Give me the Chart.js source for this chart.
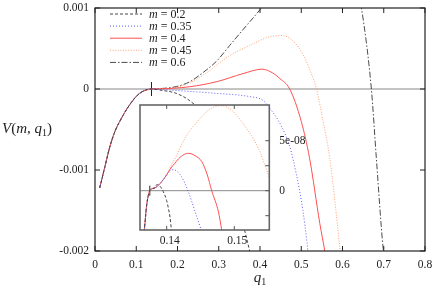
<!DOCTYPE html>
<html><head><meta charset="utf-8">
<script src="https://cdn.jsdelivr.net/npm/chart.js@4/dist/chart.umd.min.js"></script>
<style>
html,body{margin:0;padding:0;background:#fff;}
#wrap{position:relative;width:436px;height:289px;overflow:hidden;}
#main{position:absolute;left:0;top:0;}
#inset{position:absolute;left:120px;top:95px;}
</style></head><body>
<div id="wrap"><canvas id="main" width="436" height="289"></canvas><canvas id="inset" width="200" height="155"></canvas></div>
<script>
// ---------- data ----------
const seriesNames = ['0.2', '0.35', '0.4', '0.45', '0.6'];

// main panel: common rising part shared by all curves
const qRise = [0.0114, 0.0235, 0.0356, 0.0478, 0.060, 0.084, 0.108, 0.137];
const vRise = [-0.00122, -0.00097, -0.00072, -0.00053, -0.00040, -0.000195, -0.000054, 0];

// main panel: branches after q1 = 0.137
const q02 = [0.16, 0.197, 0.23, 0.26, 0.30, 0.34, 0.38];
const v02 = [-0.000015, -0.000054, -0.000146, -0.0003, -0.0007, -0.0013, -0.0021];
const q035 = [0.16, 0.213, 0.294, 0.375, 0.407, 0.424, 0.45, 0.472, 0.488, 0.504, 0.514, 0.518];
const v035 = [-0.000006, -0.000024, -0.000054, -0.000094, -0.00014, -0.00024, -0.00044, -0.00071, -0.00105, -0.0015, -0.0019, -0.0021];
const q04 = [0.16, 0.19, 0.23, 0.294, 0.359, 0.405, 0.43, 0.448, 0.472, 0.5, 0.52, 0.545, 0.557, 0.56];
const v04 = [0.000002, 0.00001, 0.000028, 0.000089, 0.00019, 0.000245, 0.0002, 0.00013, 0, -0.0004, -0.00085, -0.00166, -0.002, -0.0021];
const q045 = [0.16, 0.205, 0.262, 0.327, 0.375, 0.42, 0.454, 0.496, 0.529, 0.537, 0.553, 0.569, 0.593, 0.596];
const v045 = [0.000004, 0.000028, 0.00017, 0.000415, 0.000537, 0.00064, 0.00066, 0.000495, 0.00013, 0, -0.0004, -0.00085, -0.00194, -0.0021];
const q06 = [0.16, 0.197, 0.23, 0.261, 0.294, 0.327, 0.36, 0.40, 0.42, 0.50, 0.56, 0.61, 0.646, 0.67, 0.682, 0.698, 0.702];
const v06 = [0.000006, 0.00003, 0.00009, 0.0002, 0.00034, 0.00054, 0.00074, 0.00098, 0.00112, 0.0019, 0.0023, 0.0019, 0.001, 0, -0.00085, -0.00194, -0.0021];

// marker at the zero crossing
const qMark = 0.137;
const qMarkInset = 0.1375;

// inset panel: common rise
const qRiseIn = [0.1365, 0.13668, 0.13704, 0.1375, 0.1383, 0.1390, 0.1397, 0.1402];
const vRiseIn = [-4.6e-8, -3.93e-8, -1.43e-8, 0, 3e-9, 7e-9, 1.3e-8, 1.8e-8];
const q02In = [0.1385, 0.1390, 0.1395, 0.1400, 0.14025, 0.1405, 0.1407, 0.1409];
const v02In = [6e-9, 4.5e-9, -1e-9, -1e-8, -1.76e-8, -2.7e-8, -3.9e-8, -5e-8];
const q035In = [0.1405, 0.1410, 0.1416, 0.1422, 0.1432, 0.1442, 0.1451, 0.1454];
const v035In = [2e-8, 2.1e-8, 1.9e-8, 1.4e-8, -1e-9, -2.1e-8, -3.93e-8, -4.6e-8];
const q04In = [0.1405, 0.1412, 0.1420, 0.1432, 0.1442, 0.1452, 0.1460, 0.14666, 0.14765, 0.14814, 0.1483];
const v04In = [2.15e-8, 2.74e-8, 3.35e-8, 3.74e-8, 3.5e-8, 2.9e-8, 1.6e-8, 0, -2.1e-8, -3.93e-8, -4.6e-8];
const q045In = [0.1405, 0.1413, 0.1427, 0.14518, 0.1465, 0.14814, 0.1497, 0.1511, 0.15357, 0.15505, 0.1556];
const v045In = [2.3e-8, 3.3e-8, 5.24e-8, 7.4e-8, 8.2e-8, 8.5e-8, 8e-8, 6.9e-8, 4.24e-8, 1.57e-8, 5e-9];

// tick values / labels
const xTickValues = [0, 0.1, 0.2, 0.3, 0.4, 0.5, 0.6, 0.7, 0.8];
const xTickLabels = ['0', '0.1', '0.2', '0.3', '0.4', '0.5', '0.6', '0.7', '0.8'];
const yTickValues = [-0.002, -0.001, 0, 0.001];
const yTickLabels = ['-0.002', '-0.001', '0', '0.001'];
const xInsetTickValues = [0.14, 0.15];
const xInsetTickLabels = ['0.14', '0.15'];
const yInsetTickValues = [0, 5e-8];
const yInsetTickLabels = ['0', '5e-08'];
const yInsetMinorTicks = [-2.5e-8, 0, 2.5e-8, 5e-8];

// ---------- styles ----------
const FONT = '"Liberation Serif", "Times New Roman", serif';
const styles = [
  {color: '#444444', dash: [3, 2]},
  {color: '#5c5cff', dash: [1, 2]},
  {color: '#ff5050', dash: []},
  {color: '#ffa070', dash: [1, 1.6]},
  {color: '#4a4a4a', dash: [6, 2, 1.5, 2]}
];

function pts(qs, vs) { return qs.map((q, i) => ({x: q, y: vs[i]})); }

const mainBranches = [[q02, v02], [q035, v035], [q04, v04], [q045, v045], [q06, v06]];
const insetBranches = [[q02In, v02In], [q035In, v035In], [q04In, v04In], [q045In, v045In]];

function lineDs(i, data) {
  return {
    label: 'm = ' + seriesNames[i], data: data,
    borderColor: styles[i].color, borderDash: styles[i].dash, borderWidth: 1,
    pointRadius: 0, showLine: true, fill: false, cubicInterpolationMode: 'monotone', clip: 0
  };
}
function markerDs(q, r) {
  return {label: 'marker', data: [{x: q, y: 0}], showLine: false, pointStyle: 'line', rotation: 90,
    pointRadius: r, borderColor: '#222', borderWidth: 1, backgroundColor: '#222', clip: 0};
}

const mainDatasets = mainBranches.map((b, i) => lineDs(i, pts(qRise, vRise).concat(pts(b[0], b[1]))));
mainDatasets.push(markerDs(qMark, 7));

const insetDatasets = insetBranches.map((b, i) => {
  const first = b[0][0];
  const pre = pts(qRiseIn, vRiseIn).filter(p => p.x < first);
  return lineDs(i, pre.concat(pts(b[0], b[1])));
});
insetDatasets.push(markerDs(qMarkInset, 5));

function drawRich(ctx, segs, x, y, align) {
  let w = 0;
  segs.forEach(s => { ctx.font = s.f; s.w = ctx.measureText(s.t).width; w += s.w; });
  let cx = align === 'center' ? x - w / 2 : x;
  ctx.textAlign = 'left'; ctx.textBaseline = 'alphabetic';
  segs.forEach(s => { ctx.font = s.f; ctx.fillText(s.t, cx, y + (s.dy || 0)); cx += s.w; });
}

const mainDeco = {
  id: 'mainDeco',
  beforeDatasetsDraw(chart) {
    const {ctx, chartArea: a, scales: {y}} = chart;
    ctx.save();
    ctx.strokeStyle = '#888'; ctx.lineWidth = 1;
    const y0 = y.getPixelForValue(0);
    ctx.beginPath(); ctx.moveTo(a.left, y0); ctx.lineTo(a.right, y0); ctx.stroke();
    ctx.restore();
  },
  afterDatasetsDraw(chart) {
    const {ctx, chartArea: a, scales: {x, y}} = chart;
    ctx.save();
    ctx.strokeStyle = '#222'; ctx.lineWidth = 1.2;
    ctx.strokeRect(a.left, a.top, a.right - a.left, a.bottom - a.top);
    ctx.lineWidth = 1;
    ctx.beginPath();
    xTickValues.forEach(v => {
      const px = x.getPixelForValue(v);
      ctx.moveTo(px, a.bottom); ctx.lineTo(px, a.bottom - 5);
      ctx.moveTo(px, a.top); ctx.lineTo(px, a.top + 5);
    });
    yTickValues.forEach(v => {
      const py = y.getPixelForValue(v);
      ctx.moveTo(a.left, py); ctx.lineTo(a.left + 5, py);
      ctx.moveTo(a.right, py); ctx.lineTo(a.right - 5, py);
    });
    ctx.stroke();
    // legend
    const ds = chart.data.datasets;
    for (let i = 0; i < 5; i++) {
      const yy = 14 + i * 12.1;
      ctx.strokeStyle = ds[i].borderColor; ctx.setLineDash(ds[i].borderDash); ctx.lineWidth = 1;
      ctx.beginPath(); ctx.moveTo(110, yy); ctx.lineTo(142, yy); ctx.stroke();
      ctx.setLineDash([]);
      ctx.fillStyle = '#222';
      drawRich(ctx, [
        {t: 'm', f: 'italic 12px ' + FONT},
        {t: ' = ', f: '12px ' + FONT},
        {t: seriesNames[i], f: '12px ' + FONT}
      ], 149, yy + 4, 'left');
    }
    // axis titles
    ctx.fillStyle = '#222';
    drawRich(ctx, [
      {t: 'V', f: 'italic 15px ' + FONT},
      {t: '(', f: '15px ' + FONT},
      {t: 'm', f: 'italic 15px ' + FONT},
      {t: ', ', f: '15px ' + FONT},
      {t: 'q', f: 'italic 15px ' + FONT},
      {t: '1', f: '10px ' + FONT, dy: 3},
      {t: ')', f: '15px ' + FONT}
    ], 2, 133, 'left');
    drawRich(ctx, [
      {t: 'q', f: 'italic 15px ' + FONT},
      {t: '1', f: '10px ' + FONT, dy: 3}
    ], 260, 282, 'center');
    ctx.restore();
  }
};

const insetDeco = {
  id: 'insetDeco',
  beforeDraw(chart) {
    const {ctx, chartArea: a} = chart;
    ctx.save(); ctx.fillStyle = '#fff';
    ctx.fillRect(a.left, a.top, a.right - a.left, a.bottom - a.top);
    ctx.restore();
  },
  beforeDatasetsDraw(chart) {
    const {ctx, chartArea: a, scales: {y}} = chart;
    ctx.save();
    ctx.strokeStyle = '#888'; ctx.lineWidth = 1;
    const y0 = y.getPixelForValue(0);
    ctx.beginPath(); ctx.moveTo(a.left, y0); ctx.lineTo(a.right, y0); ctx.stroke();
    ctx.restore();
  },
  afterDatasetsDraw(chart) {
    const {ctx, chartArea: a, scales: {x, y}} = chart;
    ctx.save();
    ctx.strokeStyle = '#666'; ctx.lineWidth = 1.6;
    ctx.strokeRect(a.left, a.top, a.right - a.left, a.bottom - a.top);
    ctx.lineWidth = 1; ctx.strokeStyle = '#555';
    ctx.beginPath();
    xInsetTickValues.forEach(v => {
      const px = x.getPixelForValue(v);
      ctx.moveTo(px, a.bottom); ctx.lineTo(px, a.bottom - 4);
      ctx.moveTo(px, a.top); ctx.lineTo(px, a.top + 4);
    });
    yInsetMinorTicks.forEach(v => {
      const py = y.getPixelForValue(v);
      ctx.moveTo(a.right, py); ctx.lineTo(a.right - 4, py);
    });
    ctx.stroke();
    ctx.restore();
  }
};

Chart.defaults.font.family = FONT;
Chart.defaults.color = '#222';

new Chart(document.getElementById('main'), {
  type: 'scatter',
  data: {datasets: mainDatasets},
  options: {
    responsive: false, animation: false, devicePixelRatio: 1,
    layout: {padding: {left: 0, top: 5, right: 11, bottom: 0}},
    plugins: {legend: {display: false}, tooltip: {enabled: false}},
    scales: {
      x: {type: 'linear', min: 0, max: 0.8,
        afterBuildTicks: s => { s.ticks = xTickValues.map(v => ({value: v})); },
        afterFit: s => { s.height = 38; s.paddingLeft = 0; s.paddingRight = 0; },
        ticks: {callback: (v, i) => xTickLabels[i], font: {size: 11.5, family: FONT}, color: '#222', padding: 7, maxRotation: 0, autoSkip: false},
        grid: {display: false, drawTicks: false}, border: {display: false}},
      y: {type: 'linear', min: -0.002, max: 0.001,
        afterBuildTicks: s => { s.ticks = yTickValues.map(v => ({value: v})); },
        afterFit: s => { s.width = 95; s.paddingTop = 0; s.paddingBottom = 0; },
        ticks: {callback: (v, i) => yTickLabels[i], font: {size: 11.5, family: FONT}, color: '#222', padding: 6, autoSkip: false},
        grid: {display: false, drawTicks: false}, border: {display: false}}
    }
  },
  plugins: [mainDeco]
});

new Chart(document.getElementById('inset'), {
  type: 'scatter',
  data: {datasets: insetDatasets},
  options: {
    responsive: false, animation: false, devicePixelRatio: 1,
    layout: {padding: {left: 20, top: 10, right: 0, bottom: 0}},
    plugins: {legend: {display: false}, tooltip: {enabled: false}},
    scales: {
      x: {type: 'linear', min: 0.13605, max: 0.15518,
        afterBuildTicks: s => { s.ticks = xInsetTickValues.map(v => ({value: v})); },
        afterFit: s => { s.height = 20; s.paddingLeft = 0; s.paddingRight = 0; },
        ticks: {callback: (v, i) => xInsetTickLabels[i], font: {size: 11.5, family: FONT}, color: '#222', padding: 4, labelOffset: 3, maxRotation: 0, autoSkip: false},
        grid: {display: false, drawTicks: false}, border: {display: false}},
      y: {type: 'linear', position: 'right', min: -3.93e-8, max: 8.57e-8,
        afterBuildTicks: s => { s.ticks = yInsetTickValues.map(v => ({value: v})); },
        afterFit: s => { s.width = 50.7; s.paddingTop = 0; s.paddingBottom = 0; },
        ticks: {callback: (v, i) => yInsetTickLabels[i], font: {size: 11.5, family: FONT}, color: '#222', padding: 10, autoSkip: false},
        grid: {display: false, drawTicks: false}, border: {display: false}}
    }
  },
  plugins: [insetDeco]
});
</script>
</body></html>
